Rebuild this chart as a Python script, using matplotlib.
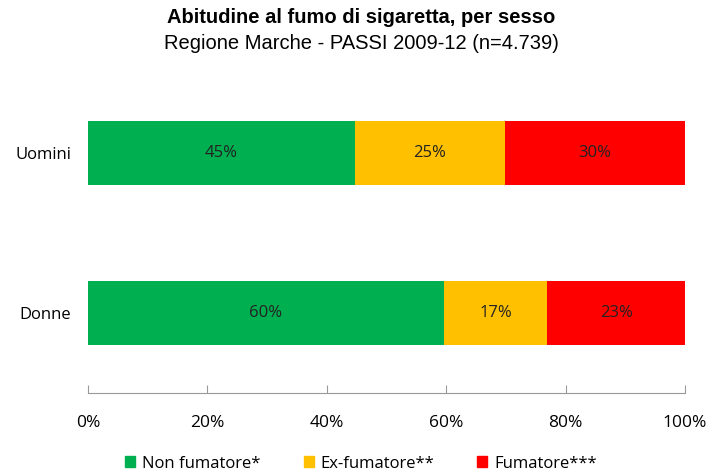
import matplotlib.pyplot as plt
from matplotlib.patches import Patch

categories = ['Donne', 'Uomini']
non_fumatore = [59.6, 44.7]
ex_fumatore = [17.3, 25.1]
fumatore = [23.1, 30.2]
series_names = ['Non fumatore*', 'Ex-fumatore**', 'Fumatore***']
colors = ['#00B050', '#FFC000', '#FF0000']
xticks = [0, 20, 40, 60, 80, 100]

plt.rcParams['font.family'] = ['Open Sans', 'DejaVu Sans']

fig = plt.figure(figsize=(7.22, 4.73), dpi=100)
ax = fig.add_axes([0.1219, 0.1691, 0.8269, 0.6766])

left = [0, 0]
for vals, col in zip([non_fumatore, ex_fumatore, fumatore], colors):
    bars = ax.barh(categories, vals, left=left, height=0.4, color=col)
    for b, v in zip(bars, vals):
        ax.text(b.get_x() + b.get_width() / 2, b.get_y() + b.get_height() / 2,
                f'{v:.0f}%', ha='center', va='center', fontsize=12, color='#222222')
    left = [l + v for l, v in zip(left, vals)]

ax.set_xlim(0, 100)
ax.set_ylim(-0.5, 1.5)
ax.set_xticks(xticks)
ax.set_xticklabels([f'{t}%' for t in xticks], fontsize=12.5)
ax.tick_params(axis='x', direction='in', length=6, color='#999999', pad=16)
ax.tick_params(axis='y', length=0, labelsize=12, pad=12)
for s in ['top', 'right', 'left']:
    ax.spines[s].set_visible(False)
ax.spines['bottom'].set_color('#999999')

fig.text(0.5, 0.962, 'Abitudine al fumo di sigaretta, per sesso', ha='center', va='center',
         fontsize=14.5, fontweight='bold', family='Liberation Sans')
fig.text(0.5, 0.909, 'Regione Marche - PASSI 2009-12 (n=4.739)', ha='center', va='center',
         fontsize=14.5, family='Liberation Sans')

handles = [Patch(color=c, label=n) for c, n in zip(colors, series_names)]
fig.legend(handles=handles, loc='center', bbox_to_anchor=(0.5, 0.02), ncol=3, frameon=False,
           fontsize=12, handlelength=0.6, handleheight=0.6, handletextpad=0.4, columnspacing=2.6)

fig.savefig('out.png', dpi=100)
